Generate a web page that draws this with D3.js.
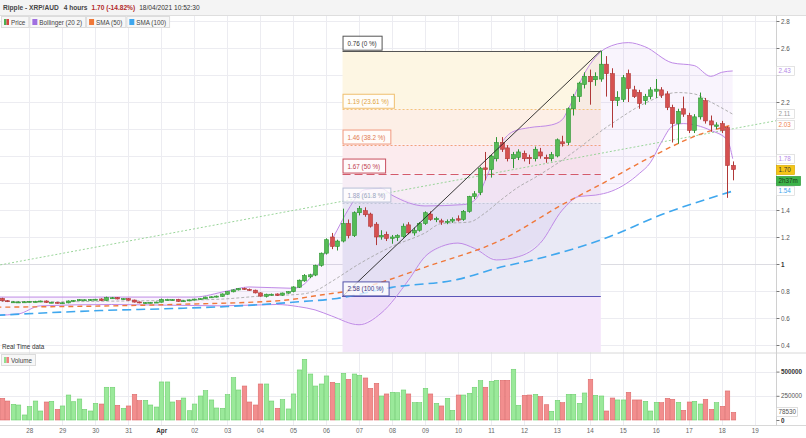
<!DOCTYPE html>
<html><head><meta charset="utf-8">
<script src="https://cdnjs.cloudflare.com/ajax/libs/d3/7.8.5/d3.min.js"></script>
<style>body{margin:0;background:#fff;overflow:hidden}svg{display:block;font-family:"Liberation Sans",Arial,sans-serif}</style>
</head><body><svg id="c" width="806" height="438"></svg>
<script>
// ---------- DATA (4-hour candles from 27/03/2021 04:00, index k) ----------
const opens=[.745,.728,.717,.716,.716,.718,.719,.719,.726,.713,.716,.709,.712,.724,.728,.733,.731,.735,.741,.730,.747,.751,.739,.743,.733,.719,.711,.713,.714,.717,.734,.733,.738,.722,.727,.733,.738,.742,.752,.755,.760,.776,.794,.808,.820,.812,.806,.786,.760,.772,.778,.769,.784,.795,.828,.875,.905,.918,.990,1.080,1.200,1.130,1.170,1.300,1.210,1.380,1.395,1.370,1.295,1.200,1.220,1.190,1.195,1.205,1.290,1.230,1.250,1.300,1.370,1.328,1.320,1.310,1.318,1.335,1.330,1.390,1.500,1.530,1.712,1.700,1.780,1.900,1.860,1.780,1.790,1.820,1.790,1.780,1.830,1.790,1.780,1.800,1.905,1.900,2.150,2.240,2.330,2.390,2.365,2.370,2.480,2.410,2.210,2.220,2.410,2.290,2.270,2.210,2.240,2.280,2.290,2.260,2.160,2.040,2.150,2.100,1.990,2.090,2.210,2.060,2.020,2.040,2.010,1.730];
const highs=[.750,.732,.724,.722,.725,.726,.727,.729,.730,.720,.719,.716,.730,.733,.740,.738,.740,.742,.746,.758,.756,.755,.746,.747,.736,.722,.717,.719,.721,.744,.742,.740,.742,.731,.737,.743,.746,.758,.760,.766,.782,.798,.812,.822,.825,.818,.810,.790,.780,.781,.782,.788,.798,.835,.885,.925,.928,.995,1.085,1.190,1.230,1.180,1.410,1.330,1.390,1.430,1.420,1.380,1.310,1.250,1.240,1.215,1.220,1.300,1.310,1.270,1.310,1.390,1.390,1.350,1.335,1.330,1.345,1.360,1.400,1.505,1.540,1.720,1.830,1.810,1.940,1.940,1.880,1.830,1.850,1.840,1.810,1.870,1.860,1.810,1.830,1.930,1.950,2.160,2.260,2.350,2.420,2.440,2.420,2.580,2.540,2.450,2.280,2.400,2.440,2.320,2.290,2.260,2.310,2.370,2.310,2.280,2.180,2.150,2.240,2.120,2.110,2.270,2.230,2.100,2.050,2.060,2.020,1.760];
const lows=[.722,.718,.714,.712,.714,.715,.716,.717,.712,.710,.707,.705,.709,.720,.725,.729,.728,.732,.726,.728,.742,.738,.735,.729,.715,.709,.707,.709,.711,.715,.730,.729,.720,.719,.724,.730,.735,.739,.748,.752,.757,.772,.790,.804,.808,.802,.782,.758,.752,.766,.764,.765,.780,.790,.822,.868,.895,.910,.980,1.070,1.110,1.100,1.160,1.190,1.200,1.360,1.350,1.270,1.140,1.180,1.170,1.150,1.170,1.195,1.220,1.210,1.240,1.290,1.320,1.310,1.290,1.295,1.305,1.315,1.320,1.380,1.480,1.510,1.620,1.640,1.760,1.830,1.760,1.710,1.770,1.760,1.740,1.760,1.780,1.750,1.760,1.790,1.870,1.880,2.100,2.200,2.300,2.180,2.320,2.350,2.240,2.010,2.170,2.200,2.200,2.230,2.150,2.180,2.220,2.230,2.230,2.140,1.900,1.890,2.090,1.970,1.970,2.070,2.040,1.980,2.000,1.970,1.490,1.620];
const closes=[.728,.721,.720,.719,.720,.723,.722,.726,.716,.717,.710,.713,.726,.730,.736,.735,.737,.739,.729,.752,.750,.741,.743,.732,.718,.712,.714,.716,.718,.738,.737,.736,.723,.728,.734,.740,.743,.755,.757,.762,.778,.795,.808,.818,.812,.806,.786,.762,.776,.776,.768,.785,.795,.830,.880,.915,.920,.990,1.080,1.180,1.130,1.170,1.300,1.210,1.380,1.410,1.365,1.280,1.200,1.212,1.190,1.200,1.210,1.280,1.230,1.250,1.300,1.380,1.330,1.336,1.310,1.316,1.330,1.325,1.390,1.500,1.520,1.710,1.700,1.800,1.900,1.850,1.780,1.810,1.830,1.780,1.780,1.850,1.800,1.780,1.810,1.920,1.890,2.150,2.240,2.340,2.390,2.350,2.390,2.480,2.410,2.210,2.235,2.380,2.300,2.240,2.190,2.240,2.290,2.295,2.250,2.160,2.040,2.130,2.110,1.990,2.090,2.230,2.060,2.030,2.030,1.990,1.730,1.700];
const volumes=[224,196,162,155,52,138,196,93,186,193,110,145,258,189,217,110,93,172,165,338,338,152,121,145,265,200,203,155,134,393,393,186,200,227,96,165,248,303,207,124,121,262,437,310,351,186,155,372,372,196,121,210,114,269,517,627,475,351,372,455,389,379,482,420,475,462,434,327,379,248,269,286,282,310,269,179,179,327,269,172,145,224,100,258,258,276,338,406,338,400,410,410,410,524,152,255,258,265,241,158,90,203,179,265,265,172,279,420,255,248,93,227,207,207,286,207,207,193,93,183,179,224,214,183,100,186,193,165,214,110,179,141,300,78.53].map(v=>v*1000);
// indicator lines: [candle index, value]
const sma100=[[-1,.62],[18,.655],[31,.67],[41,.685],[54,.72],[61,.745],[71,.827],[83,.886],[90,.968],[99,1.054],[109,1.178],[121,1.38],[133,1.54]];
const sma50=[[-1,.68],[31,.70],[51,.73],[58,.77],[63,.80],[78,.99],[91,1.18],[102,1.44],[109,1.59],[118,1.79],[127,1.96],[133,2.03]];
const bbMiddle=[[-1,.725],[10,.72],[20,.725],[30,.73],[40,.74],[48,.765],[54,.775],[57,.80],[60,.87],[65,1.0],[71,1.13],[77,1.23],[80,1.30],[85,1.31],[88,1.38],[91,1.48],[94,1.57],[97,1.64],[102,1.77],[111,2.04],[117,2.19],[123,2.27],[126,2.26],[129,2.20],[133,2.11]];
const bbUpper=[[-1,.755],[20,.755],[35,.755],[41,.80],[45,.83],[53,.82],[55,.85],[57,.95],[59,1.10],[61,1.25],[63,1.40],[66,1.55],[69,1.56],[71,1.51],[77,1.43],[84,1.44],[86,1.47],[89,1.72],[91,1.90],[93,1.98],[96,2.01],[100,2.03],[102,2.07],[103,2.14],[106,2.41],[108,2.53],[110,2.60],[114,2.64],[117,2.61],[122,2.49],[126,2.47],[129,2.39],[131,2.42],[133,2.43]];
const bbLower=[[-1,.62],[3,.63],[7,.69],[20,.70],[40,.69],[50,.70],[54,.684],[57,.66],[60,.615],[65,.55],[69,.635],[74,.88],[77,1.054],[80,1.13],[83,1.155],[86,1.116],[90,1.03],[94,1.054],[98,1.155],[102,1.40],[105,1.50],[108,1.51],[111,1.54],[116,1.67],[118,1.75],[120,1.90],[122,2.02],[124,2.04],[129,1.99],[132,1.92],[133,1.78]];
const trendGreen=[["2021-03-27T00:00Z",0.988],["2021-04-19T16:00Z",2.062]];
const fibStartK=62, fibEndK=109;
const fibLevels=[2.58,2.15,1.885,1.67,1.455,0.76];
const fibLabels=["0.76 (0 %)","1.19 (23.61 %)","1.46 (38.2 %)","1.67 (50 %)","1.88 (61.8 %)","2.58 (100 %)"];
const priceTicks=[0.4,0.6,0.8,1,1.2,1.4,1.6,1.8,2,2.2,2.4,2.6,2.8];
const volTicks=[0,250000,500000];
const dayLabels=["28","29","30","31","Apr","02","03","04","05","06","07","08","09","10","11","12","13","14","15","16","17","18","19"];
const legendNames=["Price","Bollinger (20 2)","SMA (50)","SMA (100)"];
const lastPrice=1.70, lastVol=78530;

// ---------- SETUP ----------
const svg=d3.select("#c");
const T0=Date.UTC(2021,2,27,4), H4=4*3600e3;
const tk=k=>new Date(T0+k*H4);
const x=d3.scaleUtc().domain([new Date(Date.UTC(2021,2,28)),new Date(Date.UTC(2021,3,18,8))]).range([29.3,732.7]);
const y=d3.scaleLinear().domain([0.4,2.8]).range([345,21]);
const yv=d3.scaleLinear().domain([0,500000]).range([420,371.6]);
const AX=776, TOP=15, MB=352.5, VB=425.5;
const FS=6.3;
const grid="#ececf1";

// header
svg.append("rect").attr("x",0).attr("y",0).attr("width",806).attr("height",TOP).attr("fill","#f4f4f4");
svg.append("line").attr("x1",0).attr("x2",806).attr("y1",TOP+0.5).attr("y2",TOP+0.5).attr("stroke","#dedede");
const hdr=svg.append("text").attr("x",3).attr("y",10).attr("font-size",6.6).attr("font-weight","bold").attr("fill","#444");
hdr.append("tspan").text("Ripple - XRP/AUD");
hdr.append("tspan").attr("dx",5).text("4 hours");
hdr.append("tspan").attr("dx",4).attr("fill","#b22a2a").text("1.70 (-14.82%)");
hdr.append("tspan").attr("dx",4).attr("font-weight","normal").attr("fill","#333").text("18/04/2021 10:52:30");

const days=dayLabels.map((d,i)=>new Date(Date.UTC(2021,2,28+i)));
const defs=svg.append("defs");
defs.append("clipPath").attr("id","cm").append("rect").attr("x",0).attr("y",TOP+1).attr("width",AX).attr("height",MB-TOP-1);
defs.append("clipPath").attr("id","cv").append("rect").attr("x",0).attr("y",MB).attr("width",AX).attr("height",VB-MB);

// grid
const g0=svg.append("g");
days.forEach(d=>g0.append("line").attr("x1",Math.round(x(d))+0.5).attr("x2",Math.round(x(d))+0.5).attr("y1",TOP+1).attr("y2",VB).attr("stroke",grid));
priceTicks.forEach(v=>g0.append("line").attr("x1",0).attr("x2",AX).attr("y1",Math.round(y(v))+0.5).attr("y2",Math.round(y(v))+0.5).attr("stroke",v===1?"#dcdce2":grid));
volTicks.slice(1).forEach(v=>g0.append("line").attr("x1",0).attr("x2",AX).attr("y1",Math.round(yv(v))+0.5).attr("y2",Math.round(yv(v))+0.5).attr("stroke",grid));

// main plot
const m=svg.append("g").attr("clip-path","url(#cm)");
const fx0=x(tk(fibStartK)), fx1=x(tk(fibEndK));
const bandCols=["#fdf6e3","#fdefe6","#fcebee","#f7edf5","#e9e9f5"];
for(let i=0;i<5;i++){
  m.append("rect").attr("x",fx0).attr("width",fx1-fx0).attr("y",y(fibLevels[i])).attr("height",y(fibLevels[i+1])-y(fibLevels[i])).attr("fill",bandCols[i]);
}
m.append("rect").attr("x",fx0).attr("width",fx1-fx0).attr("y",y(fibLevels[5])).attr("height",MB-y(fibLevels[5])).attr("fill","#f4e6fa");

const P=a=>a.map(([k,v])=>[x(tk(k)),y(v)]);
m.append("path").attr("d",d3.line()(P(bbUpper).concat(P(bbLower).reverse()))+"Z").attr("fill","#b070e0").attr("opacity",0.08);
m.append("path").attr("d",d3.line()(trendGreen.map(([t,v])=>[x(new Date(t)),y(v)]))).attr("stroke","#8fd08f").attr("stroke-width",0.9).attr("stroke-dasharray","2,2").attr("fill","none");
const fibStroke=["#555","#f3c57a","#f2a27c","#d45a6a","#c2c7d8","#5a55b8"];
const fibDash=[null,"2,2","2,2","8,4","2,2",null];
fibLevels.forEach((v,i)=>{
  const l=m.append("line").attr("x1",fx0).attr("x2",fx1).attr("y1",Math.round(y(v))+0.5).attr("y2",Math.round(y(v))+0.5).attr("stroke",fibStroke[i]).attr("stroke-width",1);
  if(fibDash[i]) l.attr("stroke-dasharray",fibDash[i]);
});
const curve=d3.line().curve(d3.curveMonotoneX);
const drawLine=(data,col,w,dash)=>{const p=m.append("path").attr("d",curve(P(data))).attr("fill","none").attr("stroke",col).attr("stroke-width",w); if(dash)p.attr("stroke-dasharray",dash);};
drawLine(bbMiddle,"#a0a0a0",0.8,"3,2");
drawLine(bbUpper,"#bf8ae6",1,null);
drawLine(bbLower,"#bf8ae6",1,null);
drawLine(sma100,"#3fa7ee",1.6,"9,5");
drawLine(sma50,"#f0783a",1.4,"5,4");

// candles
const cw=4;
closes.forEach((c,k)=>{
  const o=opens[k], up=c>=o, cx=Math.round(x(tk(k)));
  const fill=up?"#55bb55":"#d65050", st=up?"#2f9532":"#b03838";
  m.append("line").attr("x1",cx+0.5).attr("x2",cx+0.5).attr("y1",y(highs[k])).attr("y2",y(lows[k])).attr("stroke",st).attr("stroke-width",1);
  const yt=y(Math.max(o,c)), yb=y(Math.min(o,c));
  m.append("rect").attr("x",cx-cw/2+0.5).attr("y",yt).attr("width",cw).attr("height",Math.max(1,yb-yt)).attr("fill",fill).attr("stroke",st).attr("stroke-width",0.6);
});

m.append("line").attr("x1",fx0).attr("y1",y(fibLevels[5])).attr("x2",fx1).attr("y2",y(fibLevels[0])).attr("stroke","#222").attr("stroke-width",0.9);

// fib labels
const lblBorder=["#555","#f0c070","#f09a80","#c85060","#b8c0d8","#5555aa"];
const lblText=["#333","#e0a23c","#e07a50","#c03c4c","#9aa4c0","#3a3a8a"];
fibLevels.forEach((v,i)=>{
  const g=svg.append("g");
  const t=g.append("text").attr("x",fx0+5).attr("y",y(v)-5).attr("font-size",FS).attr("fill",lblText[i]).text(fibLabels[i]);
  const w=t.node().getComputedTextLength()+10;
  g.insert("rect","text").attr("x",fx0+0.5).attr("y",y(v)-14.5).attr("width",w).attr("height",14).attr("fill","#fff").attr("fill-opacity",0.75).attr("stroke",lblBorder[i]).attr("stroke-width",1);
});

svg.append("text").attr("x",2).attr("y",349).attr("font-size",FS).attr("fill","#333").text("Real Time data");
svg.append("line").attr("x1",0).attr("x2",806).attr("y1",MB+0.5).attr("y2",MB+0.5).attr("stroke","#d8d8d8");
svg.append("line").attr("x1",0).attr("x2",806).attr("y1",VB).attr("y2",VB).attr("stroke","#d8d8d8");

// volume
const v=svg.append("g").attr("clip-path","url(#cv)");
volumes.forEach((vol,k)=>{
  const up=closes[k]>=opens[k], cx=Math.round(x(tk(k)));
  v.append("rect").attr("x",cx-1.75).attr("y",yv(vol)).attr("width",4.5).attr("height",yv(0)-yv(vol)).attr("fill",up?"#9ae99a":"#f28e8e").attr("stroke",up?"#6fcf6f":"#dc6a6a").attr("stroke-width",0.6);
});

// legends (auto width)
function legBox(x0,yy,label,cols){
  const g=svg.append("g");
  const t=g.append("text").attr("x",x0+10).attr("y",yy+8.5).attr("font-size",FS).attr("fill","#444").text(label);
  const w=t.node().getComputedTextLength()+13;
  g.insert("rect","text").attr("x",x0+0.5).attr("y",yy+0.5).attr("width",w).attr("height",11).attr("fill","#f7f7f7").attr("stroke","#dcdcdc");
  if(cols.length===2){
    g.append("rect").attr("x",x0+3).attr("y",yy+3).attr("width",2.5).attr("height",6).attr("fill",cols[0]);
    g.append("rect").attr("x",x0+5.5).attr("y",yy+3).attr("width",2.5).attr("height",6).attr("fill",cols[1]);
  } else g.append("rect").attr("x",x0+3).attr("y",yy+3).attr("width",5).attr("height",6).attr("fill",cols[0]);
  return x0+w+1;
}
const legCols=[["#4caf50","#d64545"],["#a070e0"],["#f07838"],["#3fa7ee"]];
let lx=1;
legendNames.forEach((n,i)=>{lx=legBox(lx,16,n,legCols[i]);});
legBox(1,354,"Volume",["#8fe08f","#f08080"]);

// right axis
svg.append("line").attr("x1",AX+0.5).attr("x2",AX+0.5).attr("y1",TOP+1).attr("y2",VB).attr("stroke","#d0d0d0");
const lastOf=a=>a[a.length-1][1];
const boxYs=[lastOf(bbUpper),lastOf(bbMiddle),lastOf(sma50),lastOf(bbLower),lastOf(sma100),lastPrice].map(y).concat([y(lastPrice)+11.5]);
const ax=svg.append("g").attr("transform",`translate(${AX+0.5},0)`).call(d3.axisRight(y).tickValues(priceTicks).tickSize(3).tickPadding(1.5).tickFormat(d3.format("~g")));
ax.select(".domain").remove();
ax.selectAll("line").attr("stroke","#777");
ax.selectAll("text").attr("font-size",FS).attr("font-family","Liberation Sans, Arial, sans-serif").attr("font-weight",d=>d===1?"bold":"normal").attr("fill",d=>d===1?"#333":"#555")
  .attr("display",d=>boxYs.some(b=>Math.abs(b-y(d))<8)?"none":null);
const avx=svg.append("g").attr("transform",`translate(${AX+0.5},0)`).call(d3.axisRight(yv).tickValues(volTicks).tickSize(3).tickPadding(1.5).tickFormat(d3.format("d")));
avx.select(".domain").remove();
avx.selectAll("line").attr("stroke","#777");
avx.selectAll("text").attr("font-size",FS).attr("font-family","Liberation Sans, Arial, sans-serif").attr("font-weight",d=>d===250000?"normal":"bold").attr("fill",d=>d===250000?"#555":"#333");

function rbox(yc,text,tc,bg,bc,w){
  const g=svg.append("g");
  g.append("rect").attr("x",AX+0.5).attr("y",Math.round(yc)-4.5).attr("width",w).attr("height",9).attr("fill",bg).attr("stroke",bc).attr("stroke-width",0.7);
  g.append("text").attr("x",AX+2.5).attr("y",Math.round(yc)+2.3).attr("font-size",FS).attr("fill",tc).text(text);
}
rbox(y(lastOf(bbUpper)),d3.format(".2f")(lastOf(bbUpper)),"#b488e6","#fff","#d8d8d8",18);
rbox(y(lastOf(bbMiddle)),d3.format(".2f")(lastOf(bbMiddle)),"#999","#fff","#d8d8d8",18);
rbox(y(lastOf(sma50)),d3.format(".2f")(lastOf(sma50)),"#f08050","#fff","#d8d8d8",18);
rbox(y(lastOf(bbLower)),d3.format(".2f")(lastOf(bbLower)),"#b488e6","#fff","#d8d8d8",18);
rbox(y(lastOf(sma100)),d3.format(".2f")(lastOf(sma100)),"#3fa7ee","#fff","#d8d8d8",18);
rbox(y(lastPrice),d3.format(".2f")(lastPrice),"#333","#f5c518","#d9ab00",18);
rbox(y(lastPrice)+11.5,"2h37m","#1a3a1a","#3db54a","#2d9a3a",24);
rbox(yv(lastVol),d3.format("d")(lastVol),"#555","#fff","#d0d0d0",21);

// bottom axis
const bx=svg.append("g").attr("transform",`translate(0,${VB})`).call(d3.axisBottom(x).tickValues(days).tickSize(0).tickPadding(3.5).tickFormat((d,i)=>dayLabels[i]));
bx.select(".domain").remove();
bx.selectAll("text").attr("font-size",FS).attr("font-family","Liberation Sans, Arial, sans-serif").attr("fill",(d,i)=>dayLabels[i]==="Apr"?"#333":"#666").attr("font-weight",(d,i)=>dayLabels[i]==="Apr"?"bold":"normal");
</script></body></html>
